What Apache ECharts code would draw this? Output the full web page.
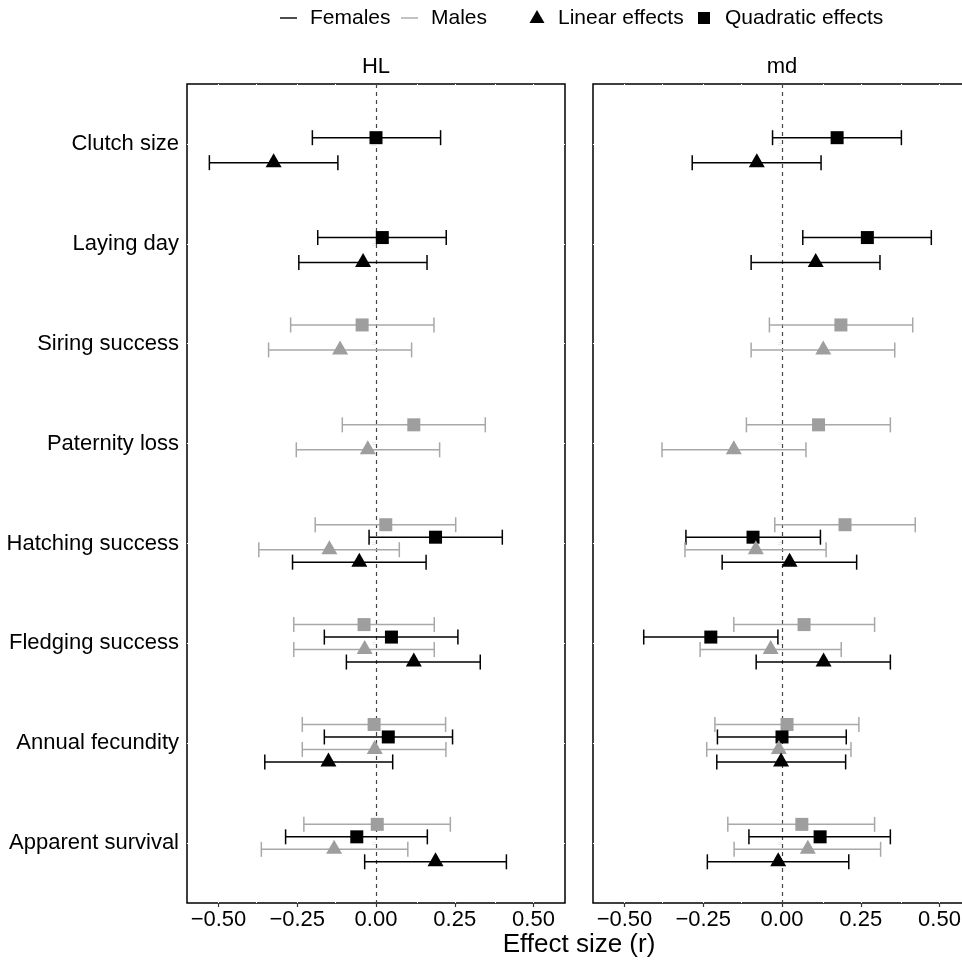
<!DOCTYPE html>
<html>
<head>
<meta charset="utf-8">
<script src="https://cdn.jsdelivr.net/npm/echarts@6/dist/echarts.min.js"></script>
<style>
html,body{margin:0;padding:0;background:#fff;overflow:hidden;width:962px;height:961px;}
#chart{width:990px;height:961px;}
</style>
</head>
<body>
<div id="chart"></div>
<script>
// ---- data ----
const categories = ['Clutch size','Laying day','Siring success','Paternity loss','Hatching success','Fledging success','Annual fecundity','Apparent survival'];
const panels = ['HL','md'];
const xTicks = [-0.5,-0.25,0,0.25,0.5];
const xMinorTicks = [-0.375,-0.125,0.125,0.375];

// HL panel
const HL_femQuadEst = [0.000, 0.020, null, null, 0.189, 0.049, 0.039, -0.061];
const HL_femQuadLo  = [-0.202,-0.185, null, null,-0.022,-0.164,-0.164,-0.287];
const HL_femQuadHi  = [0.205, 0.223, null, null, 0.401, 0.260, 0.243, 0.163];
const HL_femLinEst  = [-0.325,-0.041, null, null,-0.053, 0.120,-0.151, 0.189];
const HL_femLinLo   = [-0.529,-0.245, null, null,-0.265,-0.094,-0.353,-0.036];
const HL_femLinHi   = [-0.121, 0.162, null, null, 0.159, 0.331, 0.053, 0.414];
const HL_maleQuadEst = [null, null,-0.044, 0.120, 0.031,-0.038,-0.006, 0.004];
const HL_maleQuadLo  = [null, null,-0.271,-0.107,-0.193,-0.261,-0.234,-0.229];
const HL_maleQuadHi  = [null, null, 0.184, 0.347, 0.253, 0.185, 0.221, 0.236];
const HL_maleLinEst  = [null, null,-0.114,-0.026,-0.148,-0.036,-0.004,-0.133];
const HL_maleLinLo   = [null, null,-0.341,-0.253,-0.372,-0.261,-0.234,-0.364];
const HL_maleLinHi   = [null, null, 0.113, 0.202, 0.074, 0.185, 0.222, 0.101];

// md panel
const md_femQuadEst = [0.175, 0.271, null, null,-0.092,-0.226, 0.000, 0.121];
const md_femQuadLo  = [-0.030, 0.066, null, null,-0.305,-0.439,-0.205,-0.105];
const md_femQuadHi  = [0.379, 0.474, null, null, 0.122,-0.013, 0.204, 0.344];
const md_femLinEst  = [-0.080, 0.107, null, null, 0.024, 0.132,-0.003,-0.012];
const md_femLinLo   = [-0.285,-0.098, null, null,-0.190,-0.082,-0.207,-0.237];
const md_femLinHi   = [0.124, 0.311, null, null, 0.237, 0.344, 0.202, 0.212];
const md_maleQuadEst = [null, null, 0.187, 0.116, 0.200, 0.070, 0.016, 0.063];
const md_maleQuadLo  = [null, null,-0.040,-0.113,-0.023,-0.153,-0.213,-0.172];
const md_maleQuadHi  = [null, null, 0.415, 0.344, 0.423, 0.294, 0.244, 0.294];
const md_maleLinEst  = [null, null, 0.131,-0.153,-0.083,-0.036,-0.010, 0.082];
const md_maleLinLo   = [null, null,-0.098,-0.381,-0.308,-0.260,-0.239,-0.152];
const md_maleLinHi   = [null, null, 0.358, 0.076, 0.140, 0.188, 0.219, 0.313];

// ---- styling ----
const FONT = 'Liberation Sans, Arial, Helvetica, sans-serif';
const BLACK = '#000000';
const GREY = '#9e9e9e';
const GREY_LINE = '#a8a8a8';

const groups = [
  // order: top to bottom within a category
  {key:'maleQuad', offset:-0.1875, color:GREY, lineColor:GREY_LINE, shape:'square'},
  {key:'femQuad',  offset:-0.0625, color:BLACK, lineColor:BLACK, shape:'square'},
  {key:'maleLin',  offset: 0.0625, color:GREY, lineColor:GREY_LINE, shape:'triangle'},
  {key:'femLin',   offset: 0.1875, color:BLACK, lineColor:BLACK, shape:'triangle'}
];
const dataSets = {
  HL: {
    femQuad:[HL_femQuadEst,HL_femQuadLo,HL_femQuadHi],
    femLin:[HL_femLinEst,HL_femLinLo,HL_femLinHi],
    maleQuad:[HL_maleQuadEst,HL_maleQuadLo,HL_maleQuadHi],
    maleLin:[HL_maleLinEst,HL_maleLinLo,HL_maleLinHi]
  },
  md: {
    femQuad:[md_femQuadEst,md_femQuadLo,md_femQuadHi],
    femLin:[md_femLinEst,md_femLinLo,md_femLinHi],
    maleQuad:[md_maleQuadEst,md_maleQuadLo,md_maleQuadHi],
    maleLin:[md_maleLinEst,md_maleLinLo,md_maleLinHi]
  }
};

const catPos = categories.map((c,i)=>i+1);

function fmtTick(v){
  const s = Math.abs(v).toFixed(2);
  return v < 0 ? '\u2212' + s : s;
}

const gridBoxes = [
  {left:187, top:84, width:378, height:819},
  {left:593, top:84, width:378, height:819}
];
const grids = gridBoxes.map(g=>Object.assign({}, g, {show:true, borderColor:'#000', borderWidth:1.5, backgroundColor:'transparent', containLabel:false, z:0}));

const xAxes = panels.map((p,i)=>({
  type:'value', gridIndex:i, min:-0.6, max:0.6,
  axisLine:{show:false},
  splitLine:{show:false},
  axisTick:{show:true, length:4, lineStyle:{color:'#333', width:1.2}, customValues:xTicks},
  axisLabel:{show:true, customValues:xTicks, formatter:fmtTick, fontSize:22, color:'#000', fontFamily:FONT, margin:6}
}));
const yAxes = panels.map((p,i)=>({
  type:'value', gridIndex:i, min:0.4, max:8.6, inverse:true,
  axisLine:{show:false},
  splitLine:{show:false},
  axisTick:{show:true, length:4, lineStyle:{color:'#333', width:1.2}, customValues:catPos},
  axisLabel:{show:i===0, customValues:catPos, formatter:v=>categories[Math.round(v)-1] || '', fontSize:22, color:'#000', fontFamily:FONT, margin:8}
}));

const series = [];
// background white gridlines and zero dashed line
panels.forEach((p,i)=>{
  series.push({
    type:'line', xAxisIndex:i, yAxisIndex:i, data:[], z:1, silent:true,
    markLine:{
      silent:true, symbol:'none', animation:false, z:1,
      label:{show:false},
      data: xTicks.concat(xMinorTicks).map(v=>({xAxis:v, lineStyle:{color:'#ffffff', width:1, type:'solid'}}))
        .concat(catPos.map(v=>({yAxis:v, lineStyle:{color:'#ffffff', width:1, type:'solid'}})))
    }
  });
  series.push({
    type:'line', xAxisIndex:i, yAxisIndex:i, data:[], z:2, silent:true,
    markLine:{
      silent:true, symbol:'none', animation:false, label:{show:false}, z:2,
      data:[{xAxis:0, lineStyle:{color:'#444', width:1.2, type:[4,4]}}]
    }
  });
});

// error bars
panels.forEach((p,i)=>{
  groups.forEach(g=>{
    const [est,lo,hi] = dataSets[p][g.key];
    const d = [];
    est.forEach((e,k)=>{ if(e!==null) d.push([lo[k], catPos[k]+g.offset, hi[k]]); });
    series.push({
      type:'custom', xAxisIndex:i, yAxisIndex:i, z:3, silent:true, animation:false,
      encode:{x:[0,2], y:1},
      data:d,
      renderItem:function(params, api){
        const l = api.value(0), y = api.value(1), h = api.value(2);
        const a = api.coord([l,y]), b = api.coord([h,y]);
        const cap = 7.5;
        const st = {stroke:g.lineColor, lineWidth:1.5, fill:null};
        return {type:'group', children:[
          {type:'line', shape:{x1:a[0],y1:a[1],x2:b[0],y2:b[1]}, style:st},
          {type:'line', shape:{x1:a[0],y1:a[1]-cap,x2:a[0],y2:a[1]+cap}, style:st},
          {type:'line', shape:{x1:b[0],y1:b[1]-cap,x2:b[0],y2:b[1]+cap}, style:st}
        ]};
      }
    });
  });
});

// points
panels.forEach((p,i)=>{
  groups.forEach((g,gi)=>{
    const [est] = dataSets[p][g.key];
    const d = [];
    est.forEach((e,k)=>{ if(e!==null) d.push([e, catPos[k]+g.offset]); });
    series.push({
      type:'scatter', xAxisIndex:i, yAxisIndex:i, z:4+gi, silent:true, animation:false,
      symbol:g.shape==='square'?'rect':'triangle',
      symbolSize:g.shape==='square'?13:[16,14],
      symbolOffset:g.shape==='square'?[0,0]:[0,-2.5],
      itemStyle:{color:g.color, opacity:1},
      data:d
    });
  });
});

// text elements: strips, axis title, legend
const graphic = [
  {type:'text', x:gridBoxes[0].left + gridBoxes[0].width/2, y:67, style:{text:panels[0], font:'22px '+FONT, fill:'#000', align:'center', verticalAlign:'middle'}},
  {type:'text', x:gridBoxes[1].left + gridBoxes[1].width/2, y:67, style:{text:panels[1], font:'22px '+FONT, fill:'#000', align:'center', verticalAlign:'middle'}},
  {type:'text', x:579, y:945, style:{text:'Effect size (r)', font:'26px '+FONT, fill:'#000', align:'center', verticalAlign:'middle'}},
  // legend
  {type:'line', shape:{x1:280,y1:18,x2:297,y2:18}, style:{stroke:BLACK, lineWidth:1.4}},
  {type:'text', x:310, y:18, style:{text:'Females', font:'21px '+FONT, fill:'#000', verticalAlign:'middle'}},
  {type:'line', shape:{x1:401,y1:18,x2:418,y2:18}, style:{stroke:GREY_LINE, lineWidth:1.4}},
  {type:'text', x:431, y:18, style:{text:'Males', font:'21px '+FONT, fill:'#000', verticalAlign:'middle'}},
  {type:'polygon', shape:{points:[[537,10],[544.5,23],[529.5,23]]}, style:{fill:BLACK}},
  {type:'text', x:558, y:18, style:{text:'Linear effects', font:'21px '+FONT, fill:'#000', verticalAlign:'middle'}},
  {type:'rect', shape:{x:698,y:12,width:12,height:12}, style:{fill:BLACK}},
  {type:'text', x:725, y:18, style:{text:'Quadratic effects', font:'21px '+FONT, fill:'#000', verticalAlign:'middle'}}
];

const chart = echarts.init(document.getElementById('chart'), null, {renderer:'canvas', width:990, height:961});
chart.setOption({
  animation:false,
  backgroundColor:'#ffffff',
  grid:grids, xAxis:xAxes, yAxis:yAxes, series:series, graphic:graphic
});
</script>
</body>
</html>
